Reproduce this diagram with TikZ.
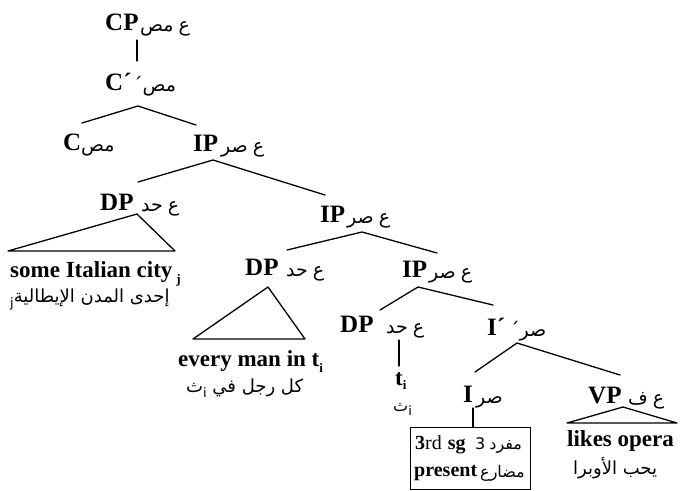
\documentclass[tikz,border=0pt]{standalone}
\usepackage{fontspec}
\setmainfont{Liberation Serif}
\newfontfamily\arabicfont[Script=Arabic]{DejaVu Sans}
\TeXXeTstate=1
\newcommand{\ar}[1]{{\arabicfont\beginR #1\endR}}
\newcommand{\subsc}[1]{\raisebox{-0.3em}{\fontsize{13}{13}\selectfont #1}}
\newcommand{\arsp}{\hspace{5pt}}
\tikzset{
  cat/.style={font=\fontsize{25}{30}\selectfont\bfseries, inner sep=0pt, anchor=base west},
  arlab/.style={font=\arabicfont\fontsize{19}{22}\selectfont, inner sep=0pt, anchor=base west},
  arword/.style={font=\arabicfont\fontsize{18}{22}\selectfont, inner sep=0pt, anchor=base west},
  arbox/.style={font=\arabicfont\fontsize{16}{20}\selectfont, inner sep=0pt, anchor=base west},
  word/.style={font=\fontsize{23}{28}\selectfont\bfseries, inner sep=0pt, anchor=base west},
  boxword/.style={font=\fontsize{20}{24}\selectfont\bfseries, inner sep=0pt, anchor=base west},
  branch/.style={line width=1.3pt, line cap=round, line join=round},
}
\begin{document}
\begin{tikzpicture}[x=1pt,y=-1pt]
\useasboundingbox (0,0) rectangle (680,490);
% labels
\node[cat] (cp) at (105,30) {CP};
\node[arlab] (cpa) at (140,31) {\ar{ع\arsp مص}};
\node[cat] (cbar) at (105,90) {C´};
\node[arlab] (cbara) at (133,91) {´\ar{مص}};
\node[cat] (c) at (63,150) {C};
\node[arlab] (ca) at (81,151) {\ar{مص}};
\node[cat] (ipa) at (193,151) {IP};
\node[arlab] (ipaa) at (221,152) {\ar{ع\arsp صر}};
\node[cat] (dpa) at (100,210) {DP};
\node[arlab] (dpaa) at (141,211) {\ar{ع\arsp حد}};
\node[cat] (ipb) at (320,222) {IP};
\node[arlab] (ipba) at (347,223) {\ar{ع\arsp صر}};
\node[cat] (dpb) at (245,275) {DP};
\node[arlab] (dpba) at (286,276) {\ar{ع\arsp حد}};
\node[cat] (ipc) at (402,277) {IP};
\node[arlab] (ipca) at (429,278) {\ar{ع\arsp صر}};
\node[cat] (dpc) at (340,332) {DP};
\node[arlab] (dpca) at (386,333) {\ar{ع\arsp حد}};
\node[cat] (ibar) at (487,335) {I´};
\node[arlab] (ibara) at (510,336) {´\ar{صر}};
\node[cat] (i) at (463,402) {I};
\node[arlab] (ia) at (476,403) {\ar{صر}};
\node[cat] (vp) at (588,403) {VP};
\node[arlab] (vpa) at (628,404) {\ar{ع\arsp ف}};
% terminal strings
\node[word] (sic) at (10,277) {some Italian city\,\subsc{j}};
\node[arword] (sica) at (10,302) {\subsc{j}\ar{إحدى المدن الإيطالية}};
\node[word] (emi) at (178,366) {every man in t\subsc{i}};
\node[arword] (emia) at (186,392) {\ar{ث}\subsc{i}\ \ar{كل رجل في}};
\node[word] (ti) at (395,385) {t\raisebox{-0.2em}{\fontsize{13}{13}\selectfont i}};
\node[arbox] (tia) at (393,411) {\ar{ث}\subsc{i}};
\node[word] (lo) at (567,446) {likes opera};
\node[arword] (loa) at (573,474) {\ar{يحب الأوبرا}};
% inflection box
\node[draw, line width=1.3pt, inner sep=0pt, anchor=north west, minimum width=120pt, minimum height=62pt] (infl) at (410,427) {};
\node[boxword] (sg) at (415,449) {3{\mdseries rd}\hspace{6pt}sg};
\node[arbox] (sga) at (475,449) {3\hspace{4pt}\ar{مفرد}};
\node[boxword] (pres) at (414,476) {present};
\node[arbox] (presa) at (480,477) {\ar{مضارع}};
% branch points
\coordinate (cpB) at (137,40);
\coordinate (cbarT) at (137,61);
\coordinate (cbarX) at (138,106);
\coordinate (cT) at (82,123);
\coordinate (ipaT) at (196,125);
\coordinate (ipaX) at (213,160);
\coordinate (dpaT) at (138,182);
\coordinate (ipbT) at (325,195);
\coordinate (dpaX) at (137,214);
\coordinate (dpaL) at (8,251);
\coordinate (dpaR) at (175,251);
\coordinate (ipbX) at (362,232);
\coordinate (dpbT) at (287,250);
\coordinate (ipcT) at (437,253);
\coordinate (dpbX) at (268,287);
\coordinate (dpbL) at (193,339);
\coordinate (dpbR) at (305,339);
\coordinate (ipcX) at (418,287);
\coordinate (dpcT) at (380,310);
\coordinate (ibarT) at (493,305);
\coordinate (dpcB) at (399,340);
\coordinate (tiT) at (399,366);
\coordinate (ibarX) at (517,343);
\coordinate (iT) at (475,372);
\coordinate (vpT) at (620,375);
\coordinate (iB) at (473,408);
\coordinate (vpX) at (623,407);
\coordinate (vpL) at (567,423);
\coordinate (vpR) at (677,423);
% connectors
\draw[branch] (cpB) -- (cbarT);
\draw[branch] (cT) -- (cbarX) -- (ipaT);
\draw[branch] (dpaT) -- (ipaX) -- (ipbT);
\draw[branch] (dpaX) -- (dpaL) -- (dpaR) -- cycle;
\draw[branch] (dpbT) -- (ipbX) -- (ipcT);
\draw[branch] (dpbX) -- (dpbL) -- (dpbR) -- cycle;
\draw[branch] (dpcT) -- (ipcX) -- (ibarT);
\draw[branch] (dpcB) -- (tiT);
\draw[branch] (iT) -- (ibarX) -- (vpT);
\draw[branch] (iB) -- (infl.north -| iB);
\draw[branch] (vpX) -- (vpL) -- (vpR) -- cycle;
\end{tikzpicture}
\end{document}
